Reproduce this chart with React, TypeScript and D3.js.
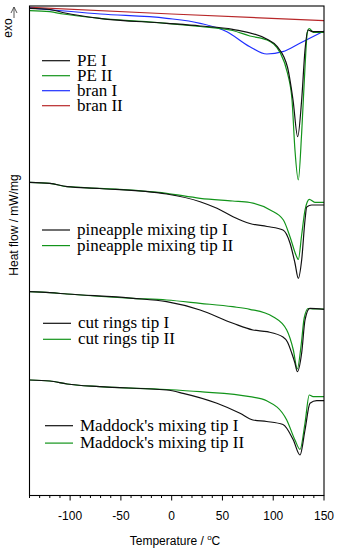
import React from "react";
import * as d3 from "d3";

// Temperature (°C) vs heat flow (mW/mg, curves vertically offset)
const peI: [number, number][] = [[-140,-0.23],[-120,-0.35],[-105,-0.70],[-71,-1.23],[-5,-1.73],[28,-2.00],[60,-2.33],[94,-3.33],[104,-4.07],[114,-6.10],[119.5,-9.40],[124.1,-13.07],[128,-9.40],[131.3,-4.40],[134.2,-2.40],[139.2,-2.57],[150,-2.57]];
const peII: [number, number][] = [[-140,-0.47],[-120,-0.57],[-107,-0.80],[-71,-1.23],[-5,-1.73],[28,-2.05],[60,-2.45],[77,-3.00],[94,-3.40],[107,-4.70],[114,-6.70],[118.5,-9.40],[121.4,-14.40],[124.7,-17.40],[128,-12.70],[131.3,-6.10],[133.5,-2.70],[135.5,-2.25],[139.5,-2.63],[150,-2.63]];
const branI: [number, number][] = [[-140,-0.20],[-70,-0.80],[-5,-1.23],[28,-1.73],[54.4,-2.57],[77,-4.07],[93.7,-4.80],[109.4,-4.57],[126.2,-3.73],[150,-2.50]];
const branII: [number, number][] = [[-140,-0.13],[0,-0.80],[150,-1.47]];
const pineI: [number, number][] = [[-140,-17.63],[-120,-17.73],[-103,-18.07],[-71,-18.25],[-5,-18.80],[28,-19.57],[44.6,-20.23],[60.4,-21.07],[77,-21.75],[94,-22.05],[109.6,-22.40],[116.5,-23.70],[121.4,-25.70],[124.7,-27.23],[128,-25.40],[131.3,-21.40],[133,-20.10],[137.9,-19.90],[150,-19.90]];
const pineII: [number, number][] = [[-140,-17.63],[-120,-17.73],[-103,-18.07],[-71,-18.23],[-5,-18.73],[28,-19.23],[60,-19.50],[77,-19.65],[97,-20.40],[110,-21.40],[116.5,-23.07],[123.1,-25.07],[124.7,-25.35],[128,-22.90],[131.3,-20.40],[133.5,-19.60],[135.5,-19.33],[141,-19.63],[150,-19.63]];
const cutI: [number, number][] = [[-140,-28.57],[-120,-28.67],[-103,-28.80],[-38,-29.23],[-5,-29.57],[28,-30.40],[60.4,-31.73],[80,-32.40],[94,-32.57],[109.6,-33.10],[114,-33.60],[118.2,-34.70],[121.4,-35.70],[123.7,-36.57],[128,-34.70],[131.3,-31.40],[136,-30.23],[150,-30.33]];
const cutII: [number, number][] = [[-140,-28.57],[-120,-28.67],[-103,-28.80],[-38,-29.23],[-5,-29.40],[28,-29.73],[60,-30.07],[77,-30.33],[99.8,-31.07],[113.3,-32.40],[119.8,-34.40],[123.7,-36.30],[127.5,-33.90],[130.5,-31.20],[134.5,-30.25],[140,-30.30],[150,-30.30]];
const madI: [number, number][] = [[-140,-37.40],[-120,-37.50],[-103,-37.80],[-71,-38.07],[-5,-38.40],[11.2,-38.73],[44.6,-39.73],[67.3,-40.73],[80,-41.40],[93.6,-41.55],[109.6,-41.85],[119.8,-43.40],[126.4,-44.90],[131.3,-42.40],[136.2,-39.73],[142.8,-39.47],[150,-39.47]];
const madII: [number, number][] = [[-140,-37.40],[-120,-37.50],[-103,-37.80],[-71,-38.07],[-5,-38.35],[28,-38.57],[77,-39.07],[94,-39.50],[113.3,-41.40],[121.4,-43.40],[126.4,-44.33],[131.3,-41.70],[135.5,-38.90],[139.2,-39.07],[150,-39.07]];

const xTicks = [-100, -50, 0, 50, 100, 150];

const BLACK = "#111";
const GREEN = "#12941a";
const BLUE = "#1f2fff";
const RED = "#b8282a";

const groups = [
  { legendY: 60.7, legendX: 42, series: [
    { name: "PE I", data: peI, color: BLACK },
    { name: "PE II", data: peII, color: GREEN },
    { name: "bran I", data: branI, color: BLUE },
    { name: "bran II", data: branII, color: RED },
  ] },
  { legendY: 230, legendX: 42, series: [
    { name: "pineapple mixing tip I", data: pineI, color: BLACK },
    { name: "pineapple mixing tip II", data: pineII, color: GREEN },
  ] },
  { legendY: 323.3, legendX: 43, series: [
    { name: "cut rings tip I", data: cutI, color: BLACK },
    { name: "cut rings tip II", data: cutII, color: GREEN },
  ] },
  { legendY: 425.7, legendX: 45, series: [
    { name: "Maddock's mixing tip I", data: madI, color: BLACK },
    { name: "Maddock's mixing tip II", data: madII, color: GREEN },
  ] },
];

export default function App() {
  const W = 338, H = 550;
  const L = 29.5, R = 324, T = 6, B = 495.5;
  const x = d3.scaleLinear().domain([-140, 150]).range([L, R]);
  const y = d3.scaleLinear().domain([0, -48.95]).range([T, B]);
  const line = d3.line<[number, number]>().x(d => x(d[0])).y(d => y(d[1])).curve(d3.curveMonotoneX);
  const minor = d3.range(-140, 151, 10);
  const legendStep = [15, 15.6, 16, 17.4];
  return (
    <svg width={W} height={H} style={{ position: "absolute", left: 0, top: 0, background: "#fff" }}>
      <rect x={0} y={0} width={W} height={H} fill="#fff" />
      <defs>
        <clipPath id="plot"><rect x={L} y={T} width={R - L} height={B - T} /></clipPath>
      </defs>
      <g clipPath="url(#plot)">
        {groups.map((g, gi) => g.series.slice().reverse().map((s, si) => (
          <path key={gi + "-" + si} d={line(s.data) || ""} fill="none" stroke={s.color} strokeWidth={1.2} />
        )))}
      </g>
      <rect x={L} y={T} width={R - L} height={B - T} fill="none" stroke="#000" strokeWidth={1.1} />
      {minor.map(v => (
        <line key={"m" + v} x1={x(v)} x2={x(v)} y1={B} y2={B + (xTicks.includes(v) ? 5 : 2.5)} stroke="#000" strokeWidth={1} />
      ))}
      {xTicks.map(v => (
        <text key={"t" + v} x={x(v)} y={520} textAnchor="middle" fontFamily="Liberation Sans, Arial, sans-serif" fontSize={12} fill="#000">{v}</text>
      ))}
      <text x={175} y={545} textAnchor="middle" fontFamily="Liberation Sans, Arial, sans-serif" fontSize={12} fill="#000">
        Temperature / <tspan fontSize={8} dy={-5}>o</tspan><tspan dy={5}>C</tspan>
      </text>
      <text transform="translate(18,225) rotate(-90)" textAnchor="middle" fontFamily="Liberation Sans, Arial, sans-serif" fontSize={12} fill="#000">Heat flow / mW/mg</text>
      <text transform="translate(8,28) rotate(-90)" textAnchor="middle" dominantBaseline="central" fontFamily="Liberation Sans, Arial, sans-serif" fontSize={12} fill="#000">exo</text>
      <path d="M14,18 L14,7 M11,13 L14,7 L17,13" fill="none" stroke="#444" strokeWidth={0.9} />
      {groups.map((g, gi) => g.series.map((s, si) => {
        const ly = g.legendY + si * legendStep[gi];
        return (
          <g key={"l" + gi + "-" + si}>
            <line x1={g.legendX} x2={g.legendX + 28} y1={ly} y2={ly} stroke={s.color} strokeWidth={1.2} />
            <text x={g.legendX + 35} y={ly + 5} fontFamily="Liberation Serif, Times New Roman, serif" fontSize={17} fill="#000">{s.name}</text>
          </g>
        );
      }))}
    </svg>
  );
}
